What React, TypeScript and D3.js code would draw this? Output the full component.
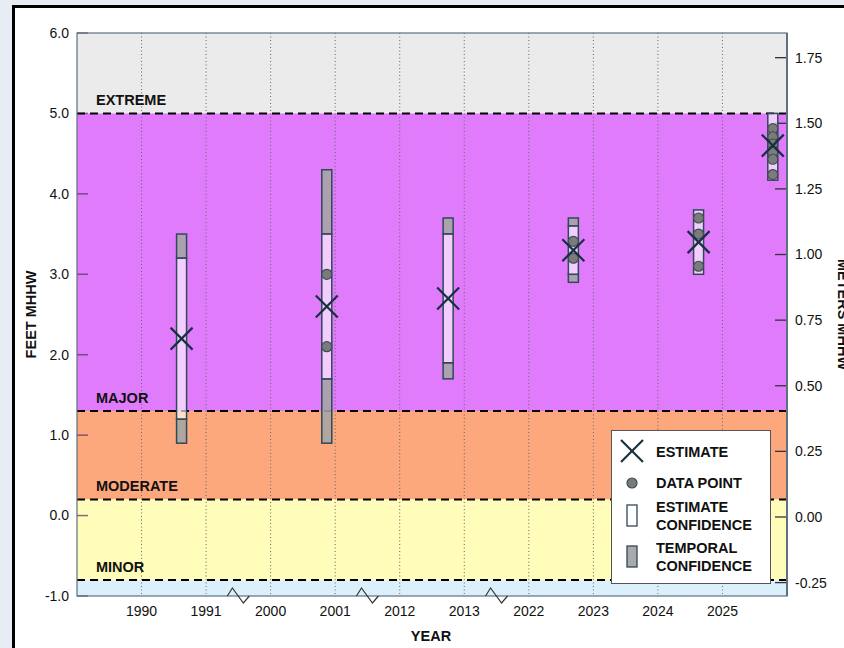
import React from "react";
import * as d3 from "d3";

// ---- data ----
const yearLabels = ["1990", "1991", "2000", "2001", "2012", "2013", "2022", "2023", "2024", "2025"];
const breakAfter = ["1991", "2001", "2013"];

const eventYear = ["1990", "2000", "2012", "2022", "2024", "2025"];
const eventFrac = [0.62, 0.87, 0.75, 0.69, 0.63, 0.78];
const estimate = [2.2, 2.6, 2.7, 3.3, 3.4, 4.6];
const tempLow = [0.9, 0.9, 1.7, 2.9, 3.0, 4.17];
const tempHigh = [3.5, 4.3, 3.7, 3.7, 3.8, 5.0];
const estLow = [1.2, 1.7, 1.9, 3.0, 3.0, 4.17];
const estHigh = [3.2, 3.5, 3.5, 3.6, 3.8, 5.0];
const dataPoints: number[][] = [
  [],
  [3.0, 2.1],
  [],
  [3.41, 3.2],
  [3.7, 3.5, 3.1],
  [4.81, 4.71, 4.62, 4.52, 4.43, 4.24],
];

const thresholdNames = ["EXTREME", "MAJOR", "MODERATE", "MINOR"];
const thresholdValues = [5.0, 1.3, 0.2, -0.8];
const bandColors = ["#ebebeb", "#e07cfc", "#fca87c", "#fffdb9", "#dcf0fc"];

const feetTicks = [-1, 0, 1, 2, 3, 4, 5, 6];
const meterTicks = [-0.25, 0, 0.25, 0.5, 0.75, 1.0, 1.25, 1.5, 1.75];

// ---- layout ----
const W = 844;
const H = 648;
const left = 77;
const right = 787;
const top = 33;
const bottom = 596;

export default function App() {
  const x = d3.scaleLinear().domain([-1, yearLabels.length]).range([left, right]);
  const y = d3.scaleLinear().domain([-1, 6]).range([bottom, top]);
  const yM = d3.scaleLinear().domain([-0.301, 1.844]).range([bottom, top]);

  const bandEdges = [6, ...thresholdValues, -1];
  const ex = (i: number) => x(yearLabels.indexOf(eventYear[i]) + eventFrac[i]);
  const bw = 10;
  const font = "Liberation Sans, Arial, Helvetica, sans-serif";
  const line = d3.line<[number, number]>();

  const seg = (key: string, cx: number, hi: number, lo: number, fill: string, op: number) =>
    hi > lo ? (
      <rect
        key={key}
        x={cx - bw / 2}
        y={y(hi)}
        width={bw}
        height={y(lo) - y(hi)}
        fill={fill}
        fillOpacity={op}
        stroke="#2d4a58"
        strokeWidth={1.5}
      />
    ) : null;

  return (
    <div style={{ position: "fixed", left: 0, top: 0 }}>
      <svg width={W} height={H} style={{ display: "block", fontFamily: font }}>
        <rect x={0} y={0} width={W} height={H} fill="#e7ecf5" />
        <rect x={13.5} y={6.5} width={900} height={700} fill="#ffffff" stroke="#000" strokeWidth={3} />

        {/* bands */}
        {bandColors.map((c, i) => (
          <rect
            key={"b" + i}
            x={left}
            y={y(bandEdges[i])}
            width={right - left}
            height={y(bandEdges[i + 1]) - y(bandEdges[i])}
            fill={c}
          />
        ))}

        {/* left ticks */}
        {feetTicks.map((t) => (
          <line key={"lt" + t} x1={left} x2={left + 11} y1={y(t)} y2={y(t)} stroke="#5a2a6a" strokeOpacity={0.7} strokeWidth={1.5} />
        ))}
        {/* right ticks */}
        {meterTicks.map((t) => (
          <line key={"rt" + t} x1={right - 12} x2={right} y1={yM(t)} y2={yM(t)} stroke="#333" strokeWidth={1.3} />
        ))}

        {/* grid */}
        {yearLabels.map((l, i) => (
          <line key={"g" + l} x1={x(i)} x2={x(i)} y1={top} y2={bottom} stroke="#666" strokeWidth={1} strokeDasharray="1,2.5" />
        ))}

        {/* thresholds */}
        {thresholdValues.map((v, i) => (
          <g key={"th" + i}>
            <line x1={left} x2={right} y1={y(v)} y2={y(v)} stroke="#000" strokeWidth={2} strokeDasharray="8,5" />
            <text x={96} y={y(v) - 8} fontSize={14.5} fontWeight="bold" fill="#111">
              {thresholdNames[i]}
            </text>
          </g>
        ))}

        {/* bars */}
        {eventYear.map((_, i) => {
          const cx = ex(i);
          return (
            <g key={"bar" + i}>
              {seg("t", cx, tempHigh[i], estHigh[i], "#a5a5a5", 0.88)}
              {seg("b", cx, estLow[i], tempLow[i], "#a5a5a5", 0.88)}
              {seg("e", cx, estHigh[i], estLow[i], "#ffffff", 0.62)}
            </g>
          );
        })}
        {dataPoints.map((pts, i) =>
          pts.map((p, j) => (
            <circle key={"dp" + i + "-" + j} cx={ex(i)} cy={y(p)} r={5} fill="#7b7b7b" stroke="#3b4d55" strokeWidth={1.2} />
          ))
        )}
        {estimate.map((v, i) => {
          const cx = ex(i);
          const cy = y(v);
          const s = 11;
          return (
            <g key={"x" + i} stroke="#163040" strokeWidth={2.2}>
              <line x1={cx - s} y1={cy - s} x2={cx + s} y2={cy + s} />
              <line x1={cx - s} y1={cy + s} x2={cx + s} y2={cy - s} />
            </g>
          );
        })}

        {/* frame */}
        <rect x={left} y={top} width={right - left} height={bottom - top} fill="none" stroke="#5f7080" strokeWidth={1.2} />
        <line x1={right} x2={right} y1={top} y2={bottom} stroke="#5f7080" strokeWidth={2} />

        {/* axis breaks */}
        {breakAfter.map((b) => {
          const c = x(yearLabels.indexOf(b) + 0.5);
          const pts: [number, number][] = [
            [c - 11, bottom],
            [c - 6, bottom - 8],
            [c + 5, bottom + 7],
            [c + 11, bottom],
          ];
          return <path key={"br" + b} d={line(pts) || ""} fill="none" stroke="#333" strokeWidth={1.2} />;
        })}

        {/* tick labels */}
        {feetTicks.map((t) => (
          <text key={"fl" + t} x={69} y={y(t)} dy="0.35em" textAnchor="end" fontSize={14} fill="#111">
            {t.toFixed(1)}
          </text>
        ))}
        {meterTicks.map((t) => (
          <text key={"ml" + t} x={795} y={yM(t)} dy="0.35em" textAnchor="start" fontSize={14} fill="#111">
            {t.toFixed(2)}
          </text>
        ))}
        {yearLabels.map((l, i) => (
          <text key={"xl" + l} x={x(i)} y={616} textAnchor="middle" fontSize={14} fill="#111">
            {l}
          </text>
        ))}

        {/* axis titles */}
        <text x={431} y={641} textAnchor="middle" fontSize={14.5} fontWeight="bold" fill="#111">
          YEAR
        </text>
        <text transform={`translate(36,${(top + bottom) / 2}) rotate(-90)`} textAnchor="middle" fontSize={14.5} fontWeight="bold" fill="#111">
          FEET MHHW
        </text>
        <text transform={`translate(838,${(top + bottom) / 2}) rotate(90)`} textAnchor="middle" fontSize={14.5} fontWeight="bold" fill="#111">
          METERS MHHW
        </text>

        {/* legend */}
        <g>
          <rect x={611.5} y={430.5} width={159} height={153} fill="#fff" stroke="#555" strokeWidth={1} />
          <g stroke="#163040" strokeWidth={2.2}>
            <line x1={621} y1={440} x2={643} y2={462} />
            <line x1={621} y1={462} x2={643} y2={440} />
          </g>
          <circle cx={632} cy={483} r={5} fill="#7b7b7b" stroke="#3b4d55" strokeWidth={1.2} />
          <rect x={627} y={505} width={10} height={21} fill="#fff" stroke="#2d4a58" strokeWidth={1.3} />
          <rect x={627} y={546} width={10} height={21} fill="#aaaaaa" stroke="#2d4a58" strokeWidth={1.3} />
          <g fontSize={14.5} fontWeight="bold" fill="#111">
            <text x={656} y={457}>ESTIMATE</text>
            <text x={656} y={488}>DATA POINT</text>
            <text x={656} y={512}>ESTIMATE</text>
            <text x={656} y={530}>CONFIDENCE</text>
            <text x={656} y={553}>TEMPORAL</text>
            <text x={656} y={571}>CONFIDENCE</text>
          </g>
        </g>
      </svg>
    </div>
  );
}
